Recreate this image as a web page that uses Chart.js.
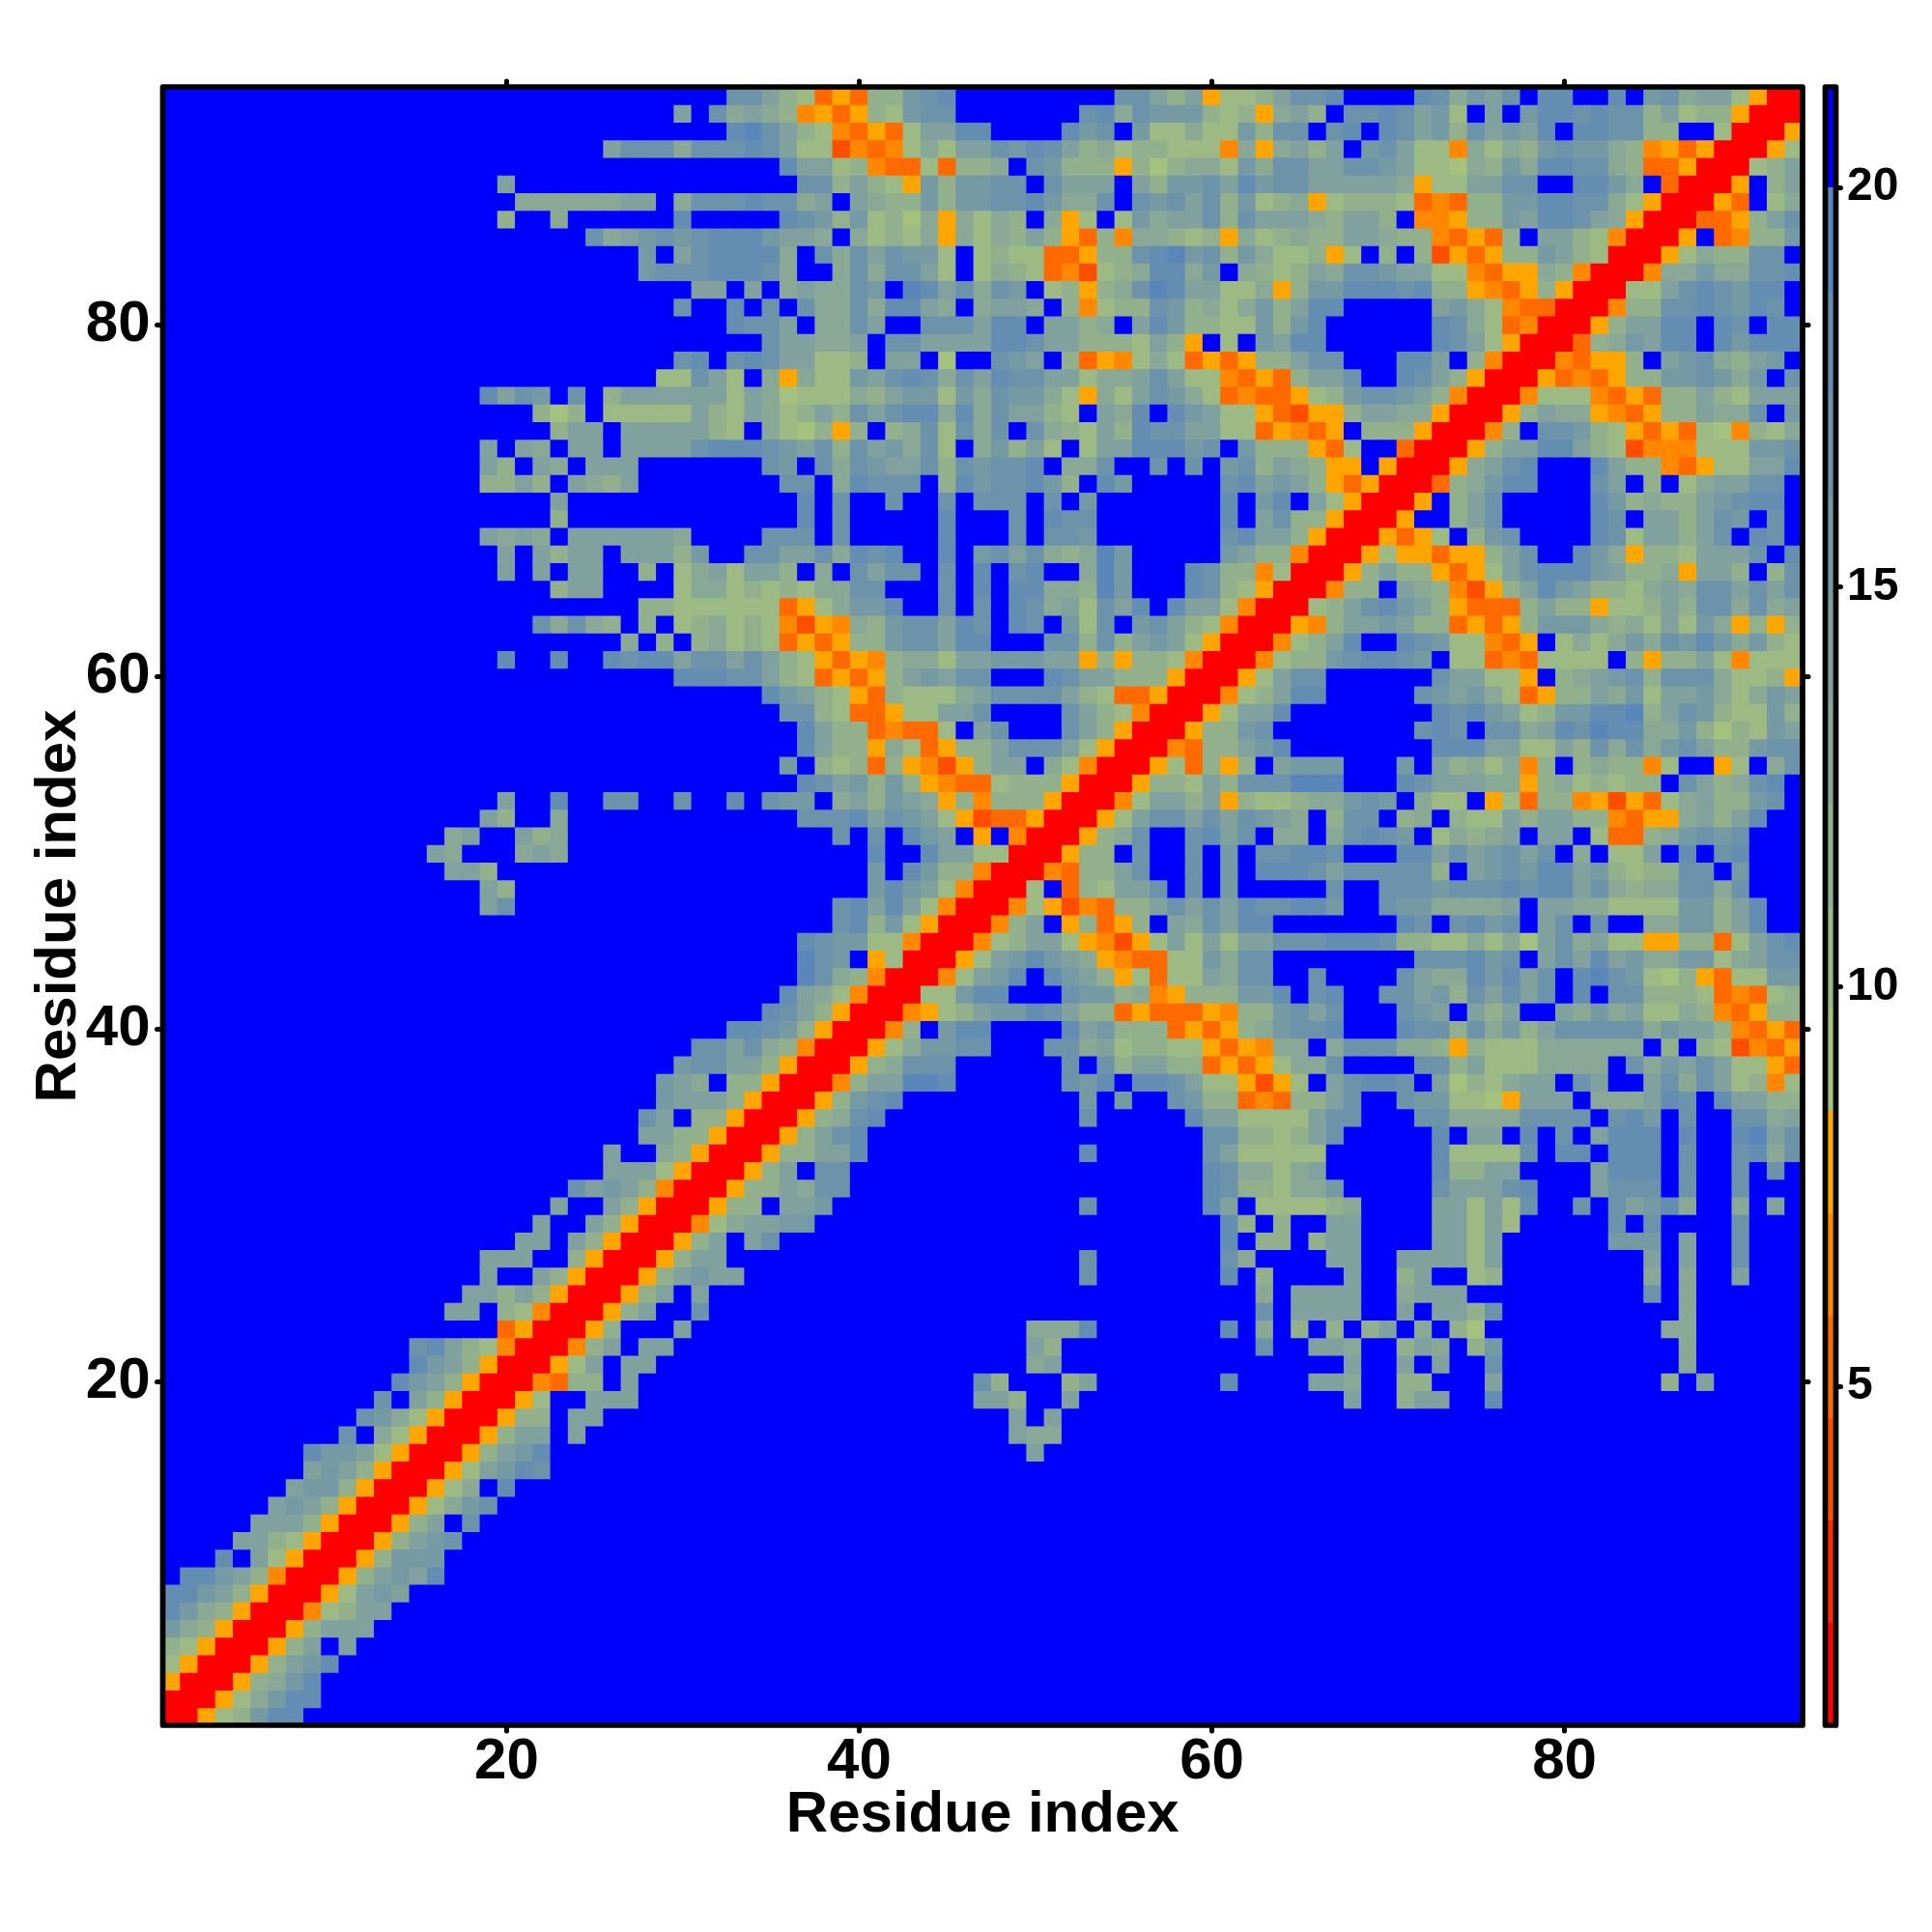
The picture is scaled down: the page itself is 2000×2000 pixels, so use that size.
<!DOCTYPE html>
<html>
<head>
<meta charset="utf-8">
<title>Residue distance map</title>
<script src="https://cdn.jsdelivr.net/npm/chart.js@4"></script>
<style>
body { margin: 0; background: #fff; }
canvas { position: absolute; top: 0; }
#mapChart { left: 0; }
#barChart { left: 1860px; }
</style>
</head>
<body>
<canvas id="mapChart" width="2000" height="2000"></canvas>
<canvas id="barChart" width="140" height="2000"></canvas>
<script>
const residueCount = 93;
const axisTicks = [20, 40, 60, 80];
const barTicks = [5, 10, 15, 20];
const axisLabel = 'Residue index';

// colour bins of the scale, low to high
const binEdges = [0.76, 2.04, 3.32, 4.6, 5.88, 7.16, 8.44, 9.72, 11, 12.28, 13.56, 14.84, 16.12, 17.4, 18.68, 20, 21.26];
const binColors = ['#ff0000', '#ff2800', '#ff4d00', '#ff6a00', '#ff8800', '#ffa500', '#a5c17e', '#9dba85',
    '#93b08d', '#8aa896', '#80a19d', '#769aa4', '#6d93ab', '#648db2', '#5a87ba', '#0000ff'];

// map is symmetric. one string per residue, starting on the diagonal, hex digit = colour bin.
// spaces only mark every tenth residue, missing tail = top bin
const levelRows = [
    '00578bddff', '00579bddf', '00589bdf', '0058abd', '0058af a', '0058a aa', '0047 8aa', '005 7aba', '00 58abad', '0 058bbb',
    '0058abc', '0058afc', '00579bc', '00579fd', '0057ab dc',
    '0058a bdffffffff ffffffffff fffffffffa',
    '0058 aafaffffff ffffffffff ffffffffa9 9',
    '005 88faafffff ffffffffff ffffffffaf a',
    '00 57ffaaafff ffffffffff ffffffaa8f faffffffff fffffffaff 8aaffdffff',
    '0 04388fafff ffffffffff ffffffc8ff f8afffffff dffffaa9ff 88fffaffff fffff8faff',
    '0057afaaff ffffffffff fffffffff9 afffffffff fffffffaff afaffcffff ffffff9fff',
    '0048afaaf ffffffffff fffffffffa 8fffffffff ffcffaa9ff 8a9f8bffff ffffff9fff',
    '0058fffa ffffffffff fffffffff9 99dfffffff df9f8f8f8a f9f86fffff fffff99fff',
    '0058aff cfffffffff ffffffffff ffffffffff ffcfaaaaff afaa8cffff ffffff9fff',
    '0058af afffffffff ffffffffff ffffffffff ff9faaaaff 9aaaffffff ffffcf9fff',
    '0058a baafffffff ffffffffff ffcfffffff df8ffffaff 8aff78ffff ffff9f9ffa',
    '0058 aaffffffff ffffffffff ffcfffffff c9ffffaaff aaaa7affff ffffafaffc',
    '005 8afacfffff ffffffffff ffffffffff df88f8aaff ffaa7affff ffbbbfaffc',
    '00 479aabbfff ffffffffff ffffffffff d8f8ffaaff ffaa7a7fff ffcfcffffc',
    '0 0588faabff ffffffffff ffcffffffd af777789ff ffaa7a7cff cfcabd9ff9 faf',
    '00588a9ccf ffffffffff fffffffffd c88799bfff ffcaaacdff facccfcffc',
    '0058afccf ffffffffff fffffffffd c9979affff ffd88aafff fadddfcffc fcf',
    '00588aad ffffffffff ffdffffffc a77777ffff ffd7777cfd dfdddfcffc d9c',
    '0058acd ffffffffff fffffffffc c8878acfff ffdfaafdfc fadddfdffd eac',
    '00589c dfffffffff ffcfffffda a7777accff fcc9999ccc cfcdbfcffc c9a',
    '0058b cdffffffff ffbfbffcb8 834388acff cbb7765aaa f999adcfda a88',
    '0048 aaeedfffff fcbdfddca7 75257facdd cfa6879aaf caffac9ca7 847',
    '005 89cccfffff fcfc8aa883 535799cfff fcc8a77799 99fc9baca7 753',
    '00 579bbccfff cc9a788775 35499f9ccc 9985877799 9999f8f872 435',
    '0 048fbddfff fdab888353 589bccdfff dcc8c9b8ac cccc9baa84 353',
    '004578abbd ca88353335 488bcacfff cbafa8affa 9b9a779843 588',
    '0077bddff fcbb894588 8bbdfcdffc cab8cacacf dfcc888734 378',
    '0047abdf dba857377a 9ccffcffff ca99dbdacf decb768537 7bb',
    '0057abd ba9543377b 9ccfffffff fcccdbcfac adab99bb79 acc',
    '00478a a754257a7a 7aacccdddc 88779796ac 9a77558837 acd',
    '0048a f58358fa9c addfffffff dcfcdbcfac fcff99bb8a dff',
    '0047 524388acac adccddbffc bb9999afaa 997777bb8a dff',
    '007 f387aacfcf bfffffcffc ccbcccdcdd ac9899cc9c',
    '00 4388acffcf bfdddcaccc cc8fabcbdd ab8788ccfb',
    '0 0588fcffcf bfccddcfff ddacabcacf 9f77afdfcd',
    '00589cffcd acf99f9cdc bf7989afaa f73389bcbc',
    '0057accac acba9f8ccf 89f877a8aa 8843559a8a dff',
    '0047aa8a 5877899bcb f977f57388 4525379a88 bcf',
    '005887a 8ccceeefff dcaaa99589 78788fca89 cdf',
    '005738 58fabbbfff bfa897948f 898847ff57 f9c',
    '00438 8abdffffff ffdddaa77a 8c9c9bca88 bcc',
    '0058 8bcfffffff fcdcfcc9ad cedd99b868 7ba',
    '005 7aadffffff ffdcdba78b bdde8acb87 7b8',
    '00 478addffff fcbab97358 8a9b7aab97 9ba',
    '0 057accffff ffcaa775f8 9abc8ccc97 785',
    '004788bcdd cbf7734377 77f8588a74 777',
    '00478adff dcb77435f7 979b9cbdb9 b87',
    '00548aab a8835358bb b9897a7b95 858',
    '0078acd ba853338a8 85778a8cc9 c9a',
    '00488f a984258adb a8879a9cca cac',
    '0058a 885357acdd dba8895aa8 f8c',
    '0057 553558acff db95887aaa cfd',
    '005 357f8bcfff fdc7aa8acf dcf',
    '00 5ff8acffff fdcfaa8acb fcf',
    '0 05f8acffff fdb8988abc ddf',
    '00389bddff fcaf8f79aa ccf',
    '0059acdff fda8843577 aad',
    '0058aadd a872444777 bbc',
    '0048fcc b875353764 879',
    '0058a9 9543588a99 cfb',
    '00477 7435388a87 aaa',
    '0053 43588bbcb9 bfc',
    '004 3558fabc98 abf',
    '00 389baddfdb ddd',
    '0 058aaddfdc fdd',
    '00488ccdcb dcf',
    '0077acdcb ddf',
    '00499b99 ccd',
    '0057988 ccf',
    '005f34 88b',
    '00335 8ac',
    '0053 f79',
    '005 f8a',
    '00 78a',
    '0 057',
    '005',
    '00',
    '0'
];

const plotLeft = 168.5, plotRight = 1866, plotTop = 90, plotBottom = 1786;

const cells = [];
const cellColors = [];
levelRows.forEach((row, r) => {
    const digits = row.replace(/ /g, '').padEnd(residueCount - r, 'f');
    for (let k = 0; k < digits.length; k++) {
        const color = binColors[parseInt(digits[k], 16)];
        cells.push({ x: r + 1 + k, y: r + 1 });
        cellColors.push(color);
        if (k > 0) {
            cells.push({ x: r + 1, y: r + 1 + k });
            cellColors.push(color);
        }
    }
});

const frame = {
    id: 'frame',
    beforeDraw(chart) {
        chart.ctx.lineCap = 'round';
    },
    afterDraw(chart) {
        const a = chart.chartArea;
        const ctx = chart.ctx;
        ctx.save();
        ctx.strokeStyle = '#000';
        ctx.lineWidth = 5.7;
        ctx.lineJoin = 'round';
        ctx.strokeRect(a.left, a.top, a.right - a.left, a.bottom - a.top);
        ctx.restore();
    }
};

function residueAxis(position, size, showLabels, title) {
    const horizontal = position === 'top' || position === 'bottom';
    return {
        type: 'linear',
        position: position,
        min: 0.5,
        max: residueCount + 0.5,
        afterBuildTicks: scale => { scale.ticks = axisTicks.map(v => ({ value: v })); },
        afterFit: scale => {
            if (horizontal) scale.height = size;
            else scale.width = size;
        },
        border: { display: false },
        grid: { drawOnChartArea: false, tickLength: 6, tickWidth: 5, tickColor: '#000' },
        ticks: {
            display: showLabels,
            autoSkip: false,
            maxRotation: 0,
            minRotation: 0,
            padding: horizontal ? 2 : 7,
            color: '#000',
            font: { family: 'Liberation Sans', size: 60, weight: 'bold', lineHeight: 1 },
            callback: v => String(v)
        },
        title: title ? {
            display: true,
            text: title,
            color: '#000',
            font: { family: 'Liberation Sans', size: 60, weight: 'bold', lineHeight: 1 },
            padding: horizontal ? { top: 0, bottom: 91 } : { top: 31, bottom: 0 }
        } : { display: false }
    };
}

new Chart(document.getElementById('mapChart'), {
    type: 'scatter',
    data: {
        datasets: [{
            data: cells,
            pointStyle: 'rect',
            pointRadius: 13.61,
            pointBorderWidth: 0,
            pointBackgroundColor: cellColors
        }]
    },
    options: {
        responsive: false,
        animation: false,
        devicePixelRatio: 1,
        events: [],
        plugins: { legend: { display: false }, tooltip: { enabled: false } },
        scales: {
            x: residueAxis('bottom', 2000 - plotBottom, true, axisLabel),
            y: residueAxis('left', plotLeft, true, axisLabel),
            xTop: residueAxis('top', plotTop, false),
            yRight: residueAxis('right', 2000 - plotRight, false)
        }
    },
    plugins: [frame]
});

new Chart(document.getElementById('barChart'), {
    type: 'bar',
    data: {
        labels: [''],
        datasets: binColors.map((color, i) => ({
            data: [[binEdges[i], binEdges[i + 1]]],
            backgroundColor: color,
            borderWidth: 0,
            grouped: false,
            barPercentage: 1,
            categoryPercentage: 1
        }))
    },
    options: {
        responsive: false,
        animation: false,
        devicePixelRatio: 1,
        events: [],
        layout: { padding: { left: 29.5, right: 0, top: plotTop, bottom: 2000 - plotBottom } },
        plugins: { legend: { display: false }, tooltip: { enabled: false } },
        scales: {
            x: { display: false },
            y: {
                position: 'right',
                min: binEdges[0],
                max: binEdges[binEdges.length - 1],
                afterBuildTicks: scale => { scale.ticks = barTicks.map(v => ({ value: v })); },
                afterFit: scale => { scale.width = 99.5; },
                border: { display: false },
                grid: { drawOnChartArea: false, tickLength: 5, tickWidth: 5, tickColor: '#000' },
                ticks: {
                    padding: 6.5,
                    color: '#000',
                    font: { family: 'Liberation Sans', size: 48, weight: 'bold', lineHeight: 1 },
                    callback: v => String(v)
                }
            }
        }
    },
    plugins: [frame]
});
</script>
</body>
</html>
